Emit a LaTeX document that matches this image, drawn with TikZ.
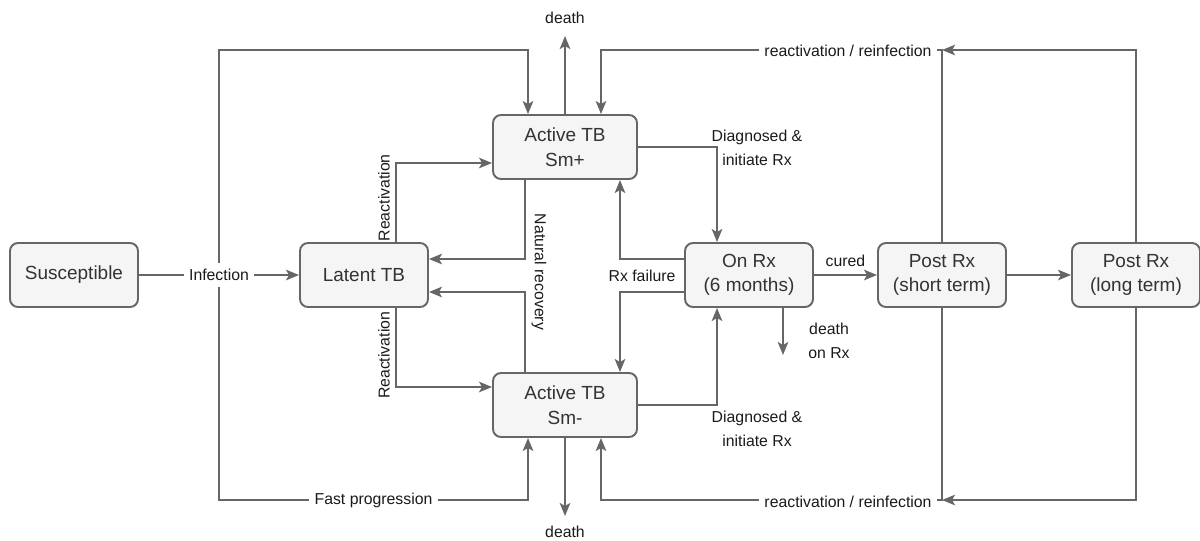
\documentclass[tikz,border=0pt]{standalone}
\usepackage{fontspec}
\setmainfont{Liberation Sans}
\usetikzlibrary{positioning, calc, arrows.meta}
\definecolor{Line}{HTML}{666666}
\definecolor{BoxFill}{HTML}{F5F5F5}
\definecolor{BoxText}{HTML}{333333}
\definecolor{LabelText}{HTML}{1A1A1A}
\tikzset{
    statenode/.style={rectangle, rounded corners=1.6mm, draw=Line, line width=1.1pt, fill=BoxFill, text=BoxText, align=center, minimum width=25.6mm, minimum height=12.8mm, inner sep=0pt, font=\fontsize{10.8}{14}\selectfont},
    widenode/.style={statenode, minimum width=28.8mm},
    arrow/.style={-{Stealth[length=2.6mm, width=2.1mm, inset=0.6mm]}, line width=1.1pt, draw=Line},
    plainline/.style={line width=1.1pt, draw=Line},
    edgelabel/.style={text=LabelText, align=center, inner sep=1pt, font=\fontsize{9}{14}\selectfont},
    gaplabel/.style={edgelabel, fill=white, inner sep=3pt},
}

\begin{document}
\begin{tikzpicture}[x=0.2mm, y=-0.2mm]
    \useasboundingbox (0,0) rectangle (1200,540);

    % States
    \node[statenode] (sus) at (74,275) {Susceptible};
    \node[statenode] (lat) at (364,275) {Latent TB};
    \node[widenode] (smp) at (565,147) {Active TB\\Sm+};
    \node[widenode] (smn) at (565,405) {Active TB\\Sm-};
    \node[statenode] (onrx) at (749,275) {On Rx\\(6 months)};
    \node[statenode] (pshort) at (942,275) {Post Rx\\(short term)};
    \node[statenode] (plong) at (1136,275) {Post Rx\\(long term)};

    % Loop heights and free ends
    \coordinate (ytop) at (0,50);
    \coordinate (ybot) at (0,500);
    \coordinate (deathtop) at (565,36);
    \coordinate (deathbot) at (565,516);
    \coordinate (rxdeath) at (783,355);

    % Infection and fast progression
    \draw[arrow] (sus) -- node[gaplabel] (inf) {Infection} (lat);
    \draw[arrow] (inf.north) -- (inf.north |- ytop) -| ($(smp.north)+(-37,0)$);
    \draw[arrow] (inf.south) -- (inf.south |- ybot) -| node[pos=0.25, gaplabel] (fastprog) {Fast progression} ($(smn.south)+(-37,0)$);

    % Reactivation from latent
    \draw[arrow] ($(lat.north)+(32,0)$) |- node[pos=0.28, edgelabel, rotate=90, anchor=south, inner sep=3pt] (reacttop) {Reactivation} ($(smp.west)+(0,16)$);
    \draw[arrow] ($(lat.south)+(32,0)$) |- node[pos=0.3, edgelabel, rotate=90, anchor=south, inner sep=3pt] (reactbot) {Reactivation} ($(smn.west)+(0,-18)$);

    % Natural recovery
    \draw[arrow] ($(smp.south)+(-40,0)$) |- ($(lat.east)+(0,-16)$);
    \draw[arrow] ($(smn.north)+(-40,0)$) |- ($(lat.east)+(0,17)$);
    \node[edgelabel, rotate=-90] (natrec) at (539,272) {Natural recovery};

    % Deaths
    \draw[arrow] (smp.north) -- (deathtop);
    \node[edgelabel] (dtop) at (565,18) {death};
    \draw[arrow] (smn.south) -- (deathbot);
    \node[edgelabel] (dbot) at (565,532) {death};
    \draw[arrow] ($(onrx.south)+(34,0)$) -- (rxdeath);
    \node[edgelabel] (drx) at (829,341) {death\\on Rx};

    % Diagnosis and treatment
    \draw[arrow] (smp.east) -| ($(onrx.north)+(-32,0)$);
    \node[edgelabel] (diagtop) at (757,148) {Diagnosed \&\\initiate Rx};
    \draw[arrow] (smn.east) -| ($(onrx.south)+(-32,0)$);
    \node[edgelabel] (diagbot) at (757,429) {Diagnosed \&\\initiate Rx};

    % Treatment failure
    \draw[arrow] ($(onrx.west)+(0,-16)$) -| ($(smp.south)+(55,0)$);
    \draw[arrow] ($(onrx.west)+(0,17)$) -| ($(smn.north)+(55,0)$);
    \node[edgelabel] (rxfail) at (642,276) {Rx failure};

    % Cure
    \draw[arrow] (onrx) -- node[edgelabel, above, inner sep=4pt] (cured) {cured} (pshort);
    \draw[arrow] (pshort) -- (plong);

    % Reactivation / reinfection loops
    \draw[arrow] (pshort.north) -- (pshort.north |- ytop) -| ($(smp.north)+(36,0)$);
    \draw[arrow] (plong.north) |- (pshort.north |- ytop);
    \draw[arrow] (pshort.south) -- (pshort.south |- ybot) -| ($(smn.south)+(36,0)$);
    \draw[arrow] (plong.south) |- (pshort.south |- ybot);
    \node[gaplabel] (reinftop) at (848,51) {reactivation / reinfection};
    \node[gaplabel] (reinfbot) at (848,502) {reactivation / reinfection};

\end{tikzpicture}
\end{document}
